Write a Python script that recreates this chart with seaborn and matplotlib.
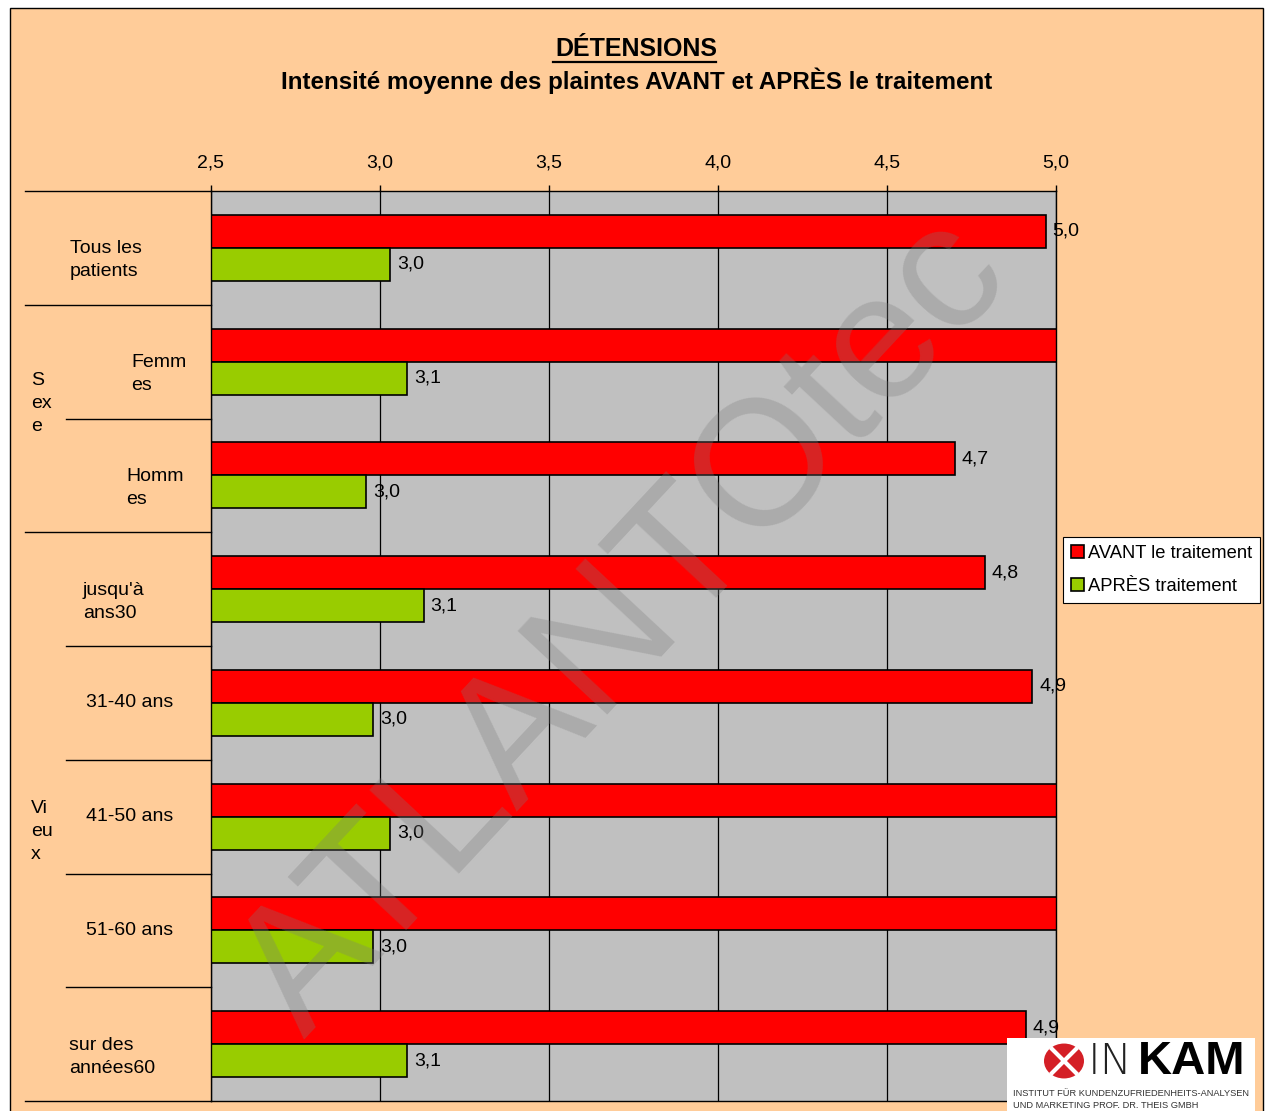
import matplotlib
matplotlib.use("Agg")
import matplotlib.pyplot as plt
import matplotlib.transforms as mtransforms
from matplotlib.patches import Rectangle, Circle
import seaborn as sns
import pandas as pd

# ---------------- data ----------------
categories = ["Tous les\npatients", "Femm\nes", "Homm\nes", "jusqu'à\nans30",
              "31-40 ans", "41-50 ans", "51-60 ans", "sur des\nannées60"]
avant = [4.97, 5.08, 4.70, 4.79, 4.93, 5.06, 5.05, 4.91]
apres = [3.03, 3.08, 2.96, 3.13, 2.98, 3.03, 2.98, 3.08]
series = ["AVANT le traitement", "APRÈS traitement"]
group_labels = ["S\nex\ne", "Vi\neu\nx"]
xticks = [2.5, 3.0, 3.5, 4.0, 4.5, 5.0]
title = "DÉTENSIONS"
subtitle = "Intensité moyenne des plaintes AVANT et APRÈS le traitement"

df = pd.DataFrame({
    "categorie": categories * 2,
    "valeur": avant + apres,
    "serie": [series[0]] * len(categories) + [series[1]] * len(categories),
})

# ---------------- style ----------------
plt.rcParams["font.family"] = ["Liberation Sans", "DejaVu Sans"]
W, H = 1273, 1111
fig = plt.figure(figsize=(W / 100, H / 100), dpi=100, facecolor="white")

# outer peach frame
fig.patches.append(Rectangle((10 / W, -0.05), (1263 - 10) / W, 1 - 8 / H + 0.05,
                             transform=fig.transFigure, facecolor="#FFCC99",
                             edgecolor="black", linewidth=1.0, zorder=-2))

ax = fig.add_axes([211 / W, 1 - 1101 / H, (1056 - 211) / W, (1101 - 191) / H])
ax.set_facecolor("#C0C0C0")

palette = {series[0]: "#FF0000", series[1]: "#99CC00"}
sns.barplot(data=df, x="valeur", y="categorie", hue="serie", orient="h",
            palette=palette, width=0.58, edgecolor="black", linewidth=1.2,
            saturation=1, ax=ax, legend=True)

ax.set_xlim(2.5, 5.0)
ax.set_ylim(len(categories) - 0.5, -0.5)
ax.set_xlabel("")
ax.set_ylabel("")
ax.set_yticks([])
ax.xaxis.tick_top()
ax.set_xticks(xticks)
ax.set_xticklabels([f"{t:.1f}".replace(".", ",") for t in xticks], fontsize=14)
ax.tick_params(axis="x", direction="out", length=4, width=1, color="black", pad=10)
ax.grid(axis="x", color="black", linewidth=0.9)
ax.grid(axis="y", visible=False)
ax.set_axisbelow(True)
for s in ax.spines.values():
    s.set_color("black")
    s.set_linewidth(1.0)

# value labels
xmax = ax.get_xlim()[1]
for cont in ax.containers:
    for p in cont.patches:
        w = p.get_width()
        if w <= xmax:
            ax.text(w + 0.02, p.get_y() + p.get_height() / 2,
                    f"{w:.1f}".replace(".", ","), va="center", ha="left",
                    fontsize=14, color="black")

# category labels (left side)
blend = mtransforms.blended_transform_factory(ax.transAxes, ax.transData)
label_px = [70, 131, 126, 83, 86, 86, 86, 69]
for i, (lab, px) in enumerate(zip(categories, label_px)):
    off = 0.11 if "\n" in lab else 0.0
    ax.text((px - 211) / 845, i + off, lab, transform=blend, ha="left", va="center",
            fontsize=14, linespacing=1.45, clip_on=False)

group_pos = [1.37, 5.13]
for lab, yy in zip(group_labels, group_pos):
    ax.text((31 - 211) / 845, yy, lab, transform=blend, ha="left", va="center",
            fontsize=14, linespacing=1.45, clip_on=False)

# separator lines
sep_y = [-0.5, 0.5, 1.5, 2.5, 3.5, 4.5, 5.5, 6.5, 7.5]
sep_x0 = [25, 25, 66, 25, 66, 66, 66, 66, 25]
for yy, x0 in zip(sep_y, sep_x0):
    ax.plot([(x0 - 211) / 845, 0], [yy, yy], transform=blend, color="black",
            linewidth=1.0, clip_on=False)

# watermark
ax.text(0.49, 0.52, "ATLANTOtec", transform=ax.transAxes, rotation=47,
        ha="center", va="center", fontsize=128, color="#7a7a7a", alpha=0.3,
        zorder=6, clip_on=True)

# legend
handles, labels = ax.get_legend_handles_labels()
ax.get_legend().remove()
leg = fig.legend(handles, labels, loc="upper left",
                 bbox_to_anchor=(1063 / W, 1 - 537 / H),
                 bbox_transform=fig.transFigure, fontsize=13.2, frameon=True,
                 fancybox=False, edgecolor="black", facecolor="white",
                 framealpha=1, handlelength=0.7, handleheight=0.7,
                 handletextpad=0.2, borderpad=0.45, labelspacing=0.85,
                 borderaxespad=0)
leg.get_frame().set_linewidth(0.8)

# titles
fig.text(0.5, 1 - 49 / H, title, ha="center", va="center", fontsize=18,
         fontweight="bold")
fig.add_artist(plt.Line2D([553 / W, 716 / W], [1 - 62 / H, 1 - 62 / H],
                          transform=fig.transFigure, color="black", linewidth=1.6))
fig.text(0.5, 1 - 81 / H, subtitle, ha="center", va="center", fontsize=17.4,
         fontweight="bold")

# logo
fig.patches.append(Rectangle((1007 / W, -0.02), (1255 - 1007) / W, (1111 - 1038) / H + 0.02,
                             transform=fig.transFigure, facecolor="white",
                             edgecolor="none", zorder=8))
fig.patches.append(Circle((1064 / W, 1 - 1061 / H), 20 / W, transform=fig.transFigure,
                          facecolor="#D41F26", edgecolor="none", zorder=9))
fig.add_artist(plt.Line2D([1052 / W, 1076 / W], [1 - 1049 / H, 1 - 1073 / H],
                          transform=fig.transFigure, color="white", linewidth=3, zorder=10))
fig.add_artist(plt.Line2D([1052 / W, 1076 / W], [1 - 1073 / H, 1 - 1049 / H],
                          transform=fig.transFigure, color="white", linewidth=3, zorder=10))
fig.text(1088 / W, 1 - 1062 / H, "IN", ha="left", va="center", fontsize=31,
         fontweight="light", color="#222222", zorder=10, family="DejaVu Sans")
fig.text(1138 / W, 1 - 1062 / H, "KAM", ha="left", va="center", fontsize=34,
         fontweight="bold", color="black", zorder=10)
fig.text(1013 / W, 1 - 1093 / H, "INSTITUT FÜR KUNDENZUFRIEDENHEITS-ANALYSEN",
         ha="left", va="center", fontsize=6.7, color="#333333", zorder=10)
fig.text(1013 / W, 1 - 1105 / H, "UND MARKETING PROF. DR. THEIS GMBH",
         ha="left", va="center", fontsize=6.7, color="#333333", zorder=10)

fig.savefig("out.png", dpi=100, facecolor="white")
